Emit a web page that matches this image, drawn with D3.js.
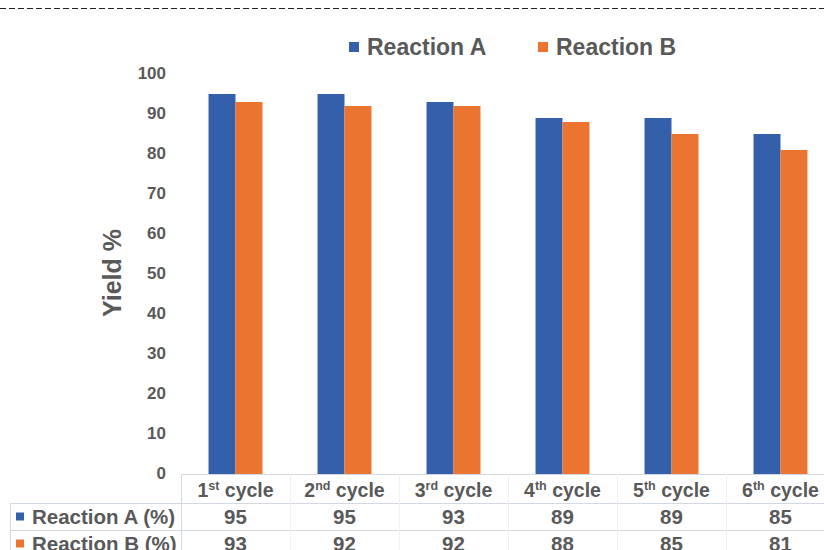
<!DOCTYPE html>
<html>
<head>
<script src="https://d3js.org/d3.v7.min.js"></script>
<style>
  body { margin: 0; background: #fff; }
  svg { font-family: "Liberation Sans", Arial, sans-serif; font-weight: bold; }
</style>
</head>
<body>
<svg id="chart" width="824" height="550"></svg>
<script>
var cycles = ["1", "2", "3", "4", "5", "6"];
var suffixes = ["st", "nd", "rd", "th", "th", "th"];
var seriesNames = ["Reaction A", "Reaction B"];
var reactionA = [95, 95, 93, 89, 89, 85];
var reactionB = [93, 92, 92, 88, 85, 81];
var yTicks = [0, 10, 20, 30, 40, 50, 60, 70, 80, 90, 100];

var colors = ["#3460AB", "#EC7431"];
var grey = "#595959";
var lineCol = "#D3D9E2";

var svg = d3.select("#chart");

// dashed rule at top
svg.append("line")
  .attr("x1", 0).attr("x2", 824).attr("y1", 8.5).attr("y2", 8.5)
  .attr("stroke", "#222").attr("stroke-dasharray", "6,3");

var x0 = d3.scaleBand().domain(cycles).range([181, 835]);
var x1 = d3.scaleBand().domain(seriesNames).range([0, x0.bandwidth()]).paddingOuter(1.02);
var y = d3.scaleLinear().domain([0, 100]).range([474, 74]);

// y axis labels
var yAxis = svg.append("g")
  .attr("transform", "translate(166,0)")
  .call(d3.axisLeft(y).tickValues(yTicks).tickSize(0).tickPadding(0));
yAxis.select(".domain").remove();
yAxis.selectAll("text")
  .attr("fill", grey).attr("font-size", 17).attr("font-weight", "bold")
  .attr("font-family", "Liberation Sans, Arial, sans-serif")
  .attr("dy", "0.32em").attr("y", -1);

svg.append("text")
  .attr("transform", "translate(121,273) rotate(-90)")
  .attr("text-anchor", "middle")
  .attr("fill", grey).attr("font-size", 25)
  .text("Yield %");

// bars
var rows = cycles.map(function(c, i) { return { cycle: c, values: [reactionA[i], reactionB[i]] }; });
var groups = svg.selectAll(".grp").data(rows).enter().append("g")
  .attr("class", "grp")
  .attr("transform", function(d) { return "translate(" + x0(d.cycle) + ",0)"; });
groups.selectAll("rect")
  .data(function(d) { return d.values.map(function(v, j) { return { key: seriesNames[j], value: v, j: j }; }); })
  .enter().append("rect")
  .attr("x", function(d) { return x1(d.key); })
  .attr("y", function(d) { return y(d.value); })
  .attr("width", x1.bandwidth())
  .attr("height", function(d) { return y(0) - y(d.value); })
  .attr("fill", function(d) { return colors[d.j]; });

// legend
var legendX = [349, 538];
var legend = svg.selectAll(".leg").data(seriesNames).enter().append("g")
  .attr("transform", function(d, i) { return "translate(" + legendX[i] + ",42)"; });
legend.append("rect").attr("width", 10).attr("height", 10)
  .attr("fill", function(d, i) { return colors[i]; });
legend.append("text").attr("x", 18).attr("y", 5).attr("dy", "0.35em")
  .attr("fill", grey).attr("font-size", 23)
  .text(function(d) { return d; });

// data table
var tbl = svg.append("g");
var tTop = y(0), r1 = 503, r2 = 530, r3 = 557;
tbl.append("line").attr("x1", 181).attr("x2", 824).attr("y1", tTop + 0.5).attr("y2", tTop + 0.5).attr("stroke", lineCol);
[r1, r2].forEach(function(ry) {
  tbl.append("line").attr("x1", 10).attr("x2", 824).attr("y1", ry + 0.5).attr("y2", ry + 0.5).attr("stroke", lineCol);
});
tbl.append("line").attr("x1", 181.5).attr("x2", 181.5).attr("y1", tTop).attr("y2", 550).attr("stroke", lineCol);
tbl.append("line").attr("x1", 10.5).attr("x2", 10.5).attr("y1", r1).attr("y2", 550).attr("stroke", lineCol);
cycles.slice(1).forEach(function(c) {
  tbl.append("line").attr("x1", x0(c) + 0.5).attr("x2", x0(c) + 0.5)
    .attr("y1", tTop).attr("y2", 550).attr("stroke", "#EEF0F4");
});

// header labels with superscripts
var head = tbl.selectAll(".hd").data(cycles).enter().append("text")
  .attr("x", function(d) { return x0(d) + x0.bandwidth() / 2; })
  .attr("y", 497)
  .attr("text-anchor", "middle")
  .attr("fill", grey).attr("font-size", 19.5);
head.append("tspan").text(function(d) { return d; });
head.append("tspan").attr("font-size", 12.5).attr("dy", -7)
  .text(function(d, i) { return suffixes[i]; });
head.append("tspan").attr("dy", 7).text(" cycle");

// row labels
var rowY = [(r1 + r2) / 2, (r2 + r3) / 2];
var rowLab = tbl.selectAll(".rl").data(seriesNames).enter().append("g")
  .attr("transform", function(d, i) { return "translate(16," + rowY[i] + ")"; });
rowLab.append("rect").attr("y", -4).attr("width", 8).attr("height", 8)
  .attr("fill", function(d, i) { return colors[i]; });
rowLab.append("text").attr("x", 16).attr("dy", "0.36em")
  .attr("fill", grey).attr("font-size", 20.5)
  .text(function(d) { return d + " (%)"; });

// values
[reactionA, reactionB].forEach(function(vals, j) {
  tbl.selectAll(".v" + j).data(vals).enter().append("text")
    .attr("x", function(d, i) { return x0(cycles[i]) + x0.bandwidth() / 2; })
    .attr("y", rowY[j]).attr("dy", "0.36em")
    .attr("text-anchor", "middle")
    .attr("fill", grey).attr("font-size", 20.5)
    .text(function(d) { return d; });
});
</script>
</body>
</html>
